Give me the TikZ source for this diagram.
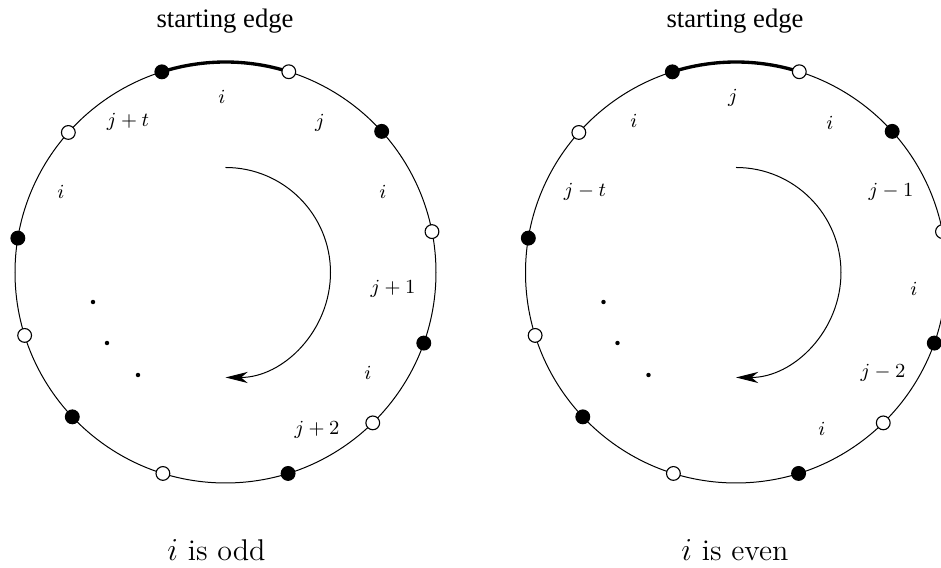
\documentclass[tikz,border=0pt]{standalone}
\usepackage{fontspec}
\newfontfamily\titlefont{Liberation Serif}
\usetikzlibrary{arrows.meta}
\tikzset{
 vtx/.style={circle,draw,line width=0.5pt,minimum size=6.2pt,inner sep=0pt},
 vfull/.style={vtx,fill=black},
 vopen/.style={vtx,fill=white},
 ring/.style={line width=0.45pt},
 startedge/.style={line width=1.5pt},
 lab/.style={font=\fontsize{9}{10}\selectfont, inner sep=0pt},
 dotn/.style={circle,fill=black,inner sep=0pt,minimum size=2pt},
 turn/.style={line width=0.45pt,-{Stealth[length=10pt,width=5pt,inset=3pt]}},
 titletext/.style={font=\titlefont\fontsize{12}{14}\selectfont},
 captext/.style={font=\fontsize{13.5}{16}\selectfont},
}
\begin{document}
\begin{tikzpicture}[x=0.45pt,y=0.45pt]
\useasboundingbox (0,0) rectangle (941,568);
\clip (0,0) rectangle (941,568);
\foreach \side/\cx in {L/225.5, R/736} {
  \coordinate (c\side) at (\cx,295.5);
  \draw[ring] (c\side) circle[radius=210.5];
  \foreach \a [count=\k] in {107.6,72.5,42.1,11.2,-19.6,-45.6,-72.7,-107.3,-136.7,-162.6,170.6,138.3}
    \coordinate (p\side\k) at ([shift={(\a:210.5)}]c\side);
  \draw[startedge] (p\side1) arc[start angle=107.6,end angle=72.5,radius=210.5];
  \foreach \k/\st in {1/vfull,2/vopen,3/vfull,4/vopen,5/vfull,6/vopen,7/vfull,8/vopen,9/vfull,10/vopen,11/vfull,12/vopen}
    \node[\st] (v\side\k) at (p\side\k) {};
  \coordinate (a\side) at ([shift={(90:105)}]c\side);
  \draw[turn] (a\side) arc[start angle=90,end angle=-90,radius=105];
}
% titles
\node[titletext] (tL) at (225,547) {starting edge};
\node[titletext] (tR) at (735,547) {starting edge};
% captions
\node[captext] (capL) at (216.5,18) {$i$ is odd};
\node[captext] (capR) at (735,18) {$i$ is even};
% left labels
\node[lab] (l1) at (222,471) {$i$};
\node[lab] (l2) at (128,446) {$j+t$};
\node[lab] (l3) at (320,445) {$j$};
\node[lab] (l4) at (61,376) {$i$};
\node[lab] (l5) at (383,376) {$i$};
\node[lab] (l6) at (393,279) {$j+1$};
\node[lab] (l7) at (368,195) {$i$};
\node[lab] (l8) at (317,138) {$j+2$};
% right labels
\node[lab] (r1) at (733,470) {$j$};
\node[lab] (r2) at (634,447) {$i$};
\node[lab] (r3) at (830,445) {$i$};
\node[lab] (r4) at (585,376) {$j-t$};
\node[lab] (r5) at (891,376) {$j-1$};
\node[lab] (r6) at (914,279) {$i$};
\node[lab] (r7) at (883,195) {$j-2$};
\node[lab] (r8) at (822,139) {$i$};
% dots
\foreach \side/\dx in {L/0, R/510.5} {
  \node[dotn] (d\side1) at (93+\dx,266) {};
  \node[dotn] (d\side2) at (107+\dx,225) {};
  \node[dotn] (d\side3) at (138+\dx,193) {};
}
\end{tikzpicture}
\end{document}
